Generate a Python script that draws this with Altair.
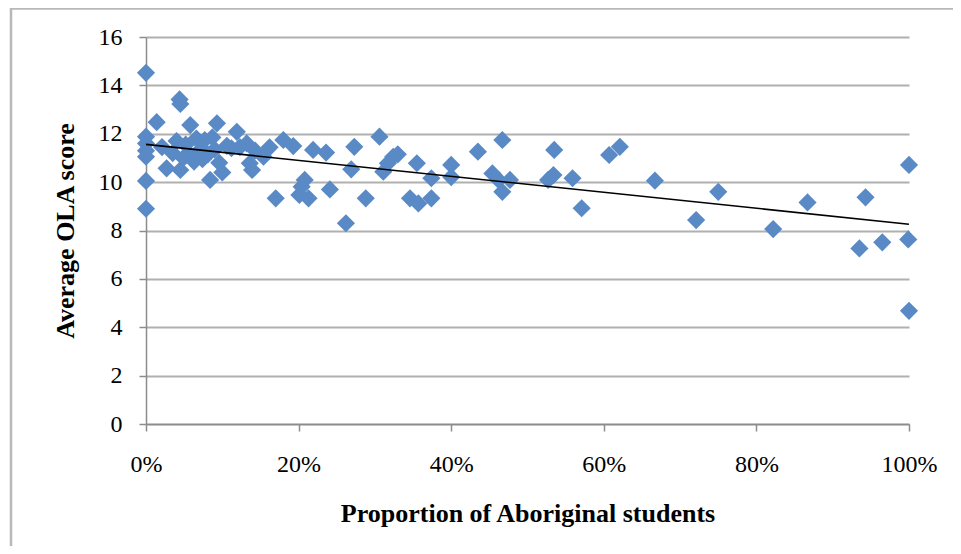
import altair as alt
import pandas as pd

# Proportion of Aboriginal students (%) and average OLA score
prop = [0, 0, 0, 0, 0, 0, 0,
        1.4, 2.1, 2.7, 3.5, 4.0, 4.4, 4.5, 4.5, 4.9, 5.2, 5.8, 5.9, 6.3, 6.6,
        7.0, 7.4, 7.7, 8.1, 8.4, 8.7, 9.0, 9.3, 9.6, 10.0, 10.6, 11.2, 11.9,
        12.3, 13.2, 13.6, 13.9, 14.3,
        15.4, 16.2, 18.0, 19.3, 21.9, 23.6, 27.3, 30.6, 26.9, 32.4, 33.0, 31.7,
        31.1, 35.5, 37.4, 20.8, 20.4, 17.0, 20.1, 21.3, 24.1, 28.8, 26.2, 34.6,
        35.7, 37.4,
        40.0, 40.0, 43.5, 46.7, 45.4, 46.2, 46.7, 47.7, 52.7, 53.4, 53.5, 55.9,
        57.1, 60.7, 62.1,
        66.7, 75.0, 72.1, 82.2, 86.7, 94.3, 93.5, 96.5, 99.9, 100, 100]
score = [14.52, 11.88, 11.6, 11.3, 11.05, 10.05, 8.9,
         12.48, 11.45, 10.57, 11.2, 11.7, 13.42, 13.23, 10.5, 11.0, 11.55, 12.36, 11.1, 10.85, 11.8,
         11.3, 10.95, 11.74, 11.15, 10.09, 11.85, 11.35, 12.43, 10.8, 10.4, 11.5, 11.4, 12.08,
         11.45, 11.6, 10.78, 10.5, 11.3,
         11.05, 11.44, 11.74, 11.49, 11.33, 11.22, 11.46, 11.88, 10.53, 11.05, 11.15, 10.78,
         10.43, 10.78, 10.16, 10.09, 9.81, 9.33, 9.47, 9.33, 9.70, 9.33, 8.30, 9.33,
         9.12, 9.33,
         10.71, 10.21, 11.26, 11.74, 10.36, 10.09, 9.60, 10.09, 10.09, 10.29, 11.33, 10.16,
         8.92, 11.12, 11.46,
         10.06, 9.60, 8.43, 8.06, 9.16, 9.37, 7.26, 7.51, 7.63, 10.71, 4.68]

# Linear trend line end points
trend_x = [0, 100]
trend_y = [11.56, 8.26]

x_ticks = [0, 20, 40, 60, 80, 100]
y_ticks = [0, 2, 4, 6, 8, 10, 12, 14, 16]

pts = pd.DataFrame({"prop": prop, "score": score})
trend = pd.DataFrame({"prop": trend_x, "score": trend_y})

FONT = "Liberation Serif"
GRID = "#B0B0B0"

xscale = alt.Scale(domain=[0, 100], nice=False, zero=True)
yscale = alt.Scale(domain=[0, 16], nice=False)

xaxis = alt.Axis(values=x_ticks, labelExpr="datum.value + '%'", grid=False,
                 title="Proportion of Aboriginal students", tickSize=7,
                 labelPadding=21, titlePadding=24, labelFlush=False)
yaxis = alt.Axis(values=y_ticks, grid=True, title="Average OLA score",
                 tickSize=7, labelPadding=17, titlePadding=20)

points = alt.Chart(pts).mark_point(
    shape="diamond", filled=True, size=330, opacity=1, color="#5A8AC6"
).encode(
    x=alt.X("prop:Q", scale=xscale, axis=xaxis),
    y=alt.Y("score:Q", scale=yscale, axis=yaxis),
)

line = alt.Chart(trend).mark_line(color="black", strokeWidth=1.6).encode(
    x=alt.X("prop:Q", scale=xscale),
    y=alt.Y("score:Q", scale=yscale),
)

frame_df = pd.DataFrame({"k": [0]})
frame_left = alt.Chart(frame_df).mark_rule(color="#B8B8B8", strokeWidth=2.5).encode(
    x=alt.value(-135), y=alt.value(-29), y2=alt.value(520)
)
frame_top = alt.Chart(frame_df).mark_rule(color="#B8B8B8", strokeWidth=2.5).encode(
    x=alt.value(-136), x2=alt.value(820), y=alt.value(-28.5)
)

chart = alt.layer(frame_left, frame_top, points, line).properties(
    width=763, height=387,
    autosize=alt.AutoSizeParams(type="none"),
    padding={"left": 138, "top": 29, "right": 44, "bottom": 122},
    background="white",
).configure_view(stroke=None).configure_axis(
    labelFont=FONT, titleFont=FONT, labelFontSize=24, titleFontSize=26,
    labelColor="black", titleColor="black", titleFontWeight="bold",
    domainColor="#8C8C8C", domainWidth=1.5, tickColor="#8C8C8C", tickWidth=1.5,
    gridColor=GRID, gridWidth=2,
)

chart.save("out.html", embed_options={"renderer": "svg", "actions": False})
